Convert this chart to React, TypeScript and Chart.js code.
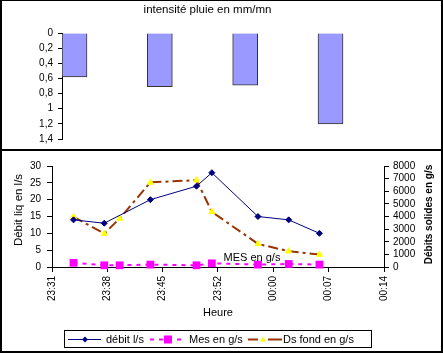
import React, { useEffect, useRef } from 'react';
import { Chart, registerables } from 'chart.js';

Chart.register(...registerables);

// ---------- data ----------
const rainTitle = 'intensité pluie en mm/mn';
const rainSlots = [1, 2, 3, 4];
const rainIntensity = [0.58, 0.71, 0.69, 1.2];

const flowLabel = 'débit l/s';
const flowTimes = ['23:34', '23:38', '23:44', '23:50', '23:52', '23:58', '00:02', '00:06'];
const flowValues = [14, 13, 20, 24, 28, 15, 14, 10];

const mesLabel = 'Mes en g/s';
const bedLabel = 'Ds fond en g/s';
const solidTimes = ['23:34', '23:38', '23:40', '23:44', '23:50', '23:52', '23:58', '00:02', '00:06'];
const mesValues = [330, 135, 135, 190, 135, 290, 190, 240, 190];
const bedloadValues = [3970, 2650, 3840, 6700, 6880, 4370, 1830, 1250, 985];

const xTickTimes = ['23:31:12', '23:38:24', '23:45:36', '23:52:48', '00:00:00', '00:07:12', '00:14:24'];
const leftAxisTitle = 'Débit liq en l/s';
const rightAxisTitle = 'Débits solides en g/s';
const xAxisTitle = 'Heure';
const mesNote = 'MES en g/s';

const FONT = '"Liberation Sans", Arial, sans-serif';

function toMin(s: string): number {
  const p = s.split(':').map(Number);
  let v = p[0] * 60 + p[1] + (p[2] || 0) / 60;
  if (p[0] < 12) v += 1440;
  return v;
}

const axisGrid = { drawOnChartArea: false, drawTicks: true, color: '#000' };

export default function App() {
  const topRef = useRef<HTMLCanvasElement>(null);
  const botRef = useRef<HTMLCanvasElement>(null);

  useEffect(() => {
    document.body.style.margin = '0';
    Chart.defaults.font.family = FONT;
    Chart.defaults.font.size = 10;
    Chart.defaults.color = '#000';

    const titlePlugin = {
      id: 'rainTitle',
      afterDraw(chart: any) {
        const ctx = chart.ctx;
        ctx.save();
        ctx.fillStyle = '#000';
        ctx.font = `11.5px ${FONT}`;
        ctx.textAlign = 'center';
        ctx.textBaseline = 'middle';
        ctx.fillText(rainTitle, 207.5, 10);
        ctx.restore();
      },
    };

    const top = new Chart(topRef.current!, {
      type: 'bar',
      data: {
        datasets: [
          {
            data: rainSlots.map((x, i) => ({ x, y: rainIntensity[i] })),
            backgroundColor: '#9999ff',
            borderColor: '#333333',
            borderWidth: 1,
            barThickness: 25,
          } as any,
        ],
      },
      options: {
        animation: false,
        responsive: false,
        events: [],
        layout: { padding: { top: 33, bottom: 9, left: 0, right: 23 } },
        plugins: { legend: { display: false }, tooltip: { enabled: false } },
        scales: {
          x: { type: 'linear', display: false, min: 0.8535, max: 5.0485, offset: false },
          y: {
            min: 0,
            max: 1.4,
            reverse: true,
            ticks: {
              stepSize: 0.2,
              padding: 5,
              autoSkip: false,
              color: '#000',
              callback: (v: any) => String(Math.round(v * 10) / 10).replace('.', ','),
            },
            grid: { ...axisGrid, tickLength: 4 },
            border: { color: '#000' },
            afterFit: (s: any) => {
              s.width = 62;
            },
          },
        },
      } as any,
      plugins: [titlePlugin],
    });

    const decoPlugin = {
      id: 'deco',
      afterDraw(chart: any) {
        const ctx = chart.ctx;
        ctx.save();
        ctx.fillStyle = '#000';
        ctx.textBaseline = 'middle';
        // left title
        ctx.save();
        ctx.translate(18.5, 60);
        ctx.rotate(-Math.PI / 2);
        ctx.textAlign = 'center';
        ctx.font = `11.5px ${FONT}`;
        ctx.fillText(leftAxisTitle, 0, 0);
        ctx.restore();
        // right title
        ctx.save();
        ctx.translate(429.5, 64.5);
        ctx.rotate(-Math.PI / 2);
        ctx.textAlign = 'center';
        ctx.font = `bold 10px ${FONT}`;
        ctx.fillText(rightAxisTitle, 0, 0);
        ctx.restore();
        // x title
        ctx.textAlign = 'center';
        ctx.font = `11px ${FONT}`;
        const ca = chart.chartArea;
        ctx.fillText(xAxisTitle, (ca.left + ca.right) / 2, 162.5);
        // note
        ctx.fillText(mesNote, 252, 107.5);

        // legend
        const ds = chart.data.datasets;
        ctx.strokeStyle = '#000';
        ctx.lineWidth = 1;
        ctx.strokeRect(64.5, 180.5, 307, 17);
        const cy = 189.5;
        ctx.textAlign = 'left';
        ctx.font = `11px ${FONT}`;
        // debit
        ctx.strokeStyle = '#000080';
        ctx.lineWidth = 1;
        ctx.beginPath();
        ctx.moveTo(68, cy);
        ctx.lineTo(101, cy);
        ctx.stroke();
        ctx.fillStyle = '#000080';
        ctx.beginPath();
        ctx.moveTo(85, cy - 3);
        ctx.lineTo(88, cy);
        ctx.lineTo(85, cy + 3);
        ctx.lineTo(82, cy);
        ctx.closePath();
        ctx.fill();
        ctx.fillStyle = '#000';
        ctx.fillText(ds[0].label, 106, cy + 0.5);
        // mes
        ctx.strokeStyle = '#ff00ff';
        ctx.lineWidth = 2;
        ctx.setLineDash([4, 5]);
        ctx.beginPath();
        ctx.moveTo(150, cy);
        ctx.lineTo(184, cy);
        ctx.stroke();
        ctx.setLineDash([]);
        ctx.fillStyle = '#ff00ff';
        ctx.fillRect(164, cy - 4, 8, 8);
        ctx.fillStyle = '#000';
        ctx.fillText(ds[1].label, 189, cy + 0.5);
        // bed load
        ctx.strokeStyle = '#993300';
        ctx.lineWidth = 2;
        ctx.beginPath();
        ctx.moveTo(248, cy);
        ctx.lineTo(258, cy);
        ctx.moveTo(268, cy);
        ctx.lineTo(282, cy);
        ctx.stroke();
        ctx.fillStyle = '#ffff00';
        ctx.beginPath();
        ctx.moveTo(263, cy - 3);
        ctx.lineTo(266, cy + 2);
        ctx.lineTo(260, cy + 2);
        ctx.closePath();
        ctx.fill();
        ctx.fillStyle = '#000';
        ctx.fillText(ds[2].label, 283, cy + 0.5);
        ctx.restore();
      },
    };

    const bot = new Chart(botRef.current!, {
      type: 'line',
      data: {
        datasets: [
          {
            label: flowLabel,
            data: flowTimes.map((t, i) => ({ x: toMin(t), y: flowValues[i] })),
            yAxisID: 'y',
            borderColor: '#000080',
            backgroundColor: '#000080',
            borderWidth: 1,
            pointStyle: 'rectRot',
            pointRadius: 3,
            pointBorderWidth: 1,
            clip: false,
          },
          {
            label: mesLabel,
            data: solidTimes.map((t, i) => ({ x: toMin(t), y: mesValues[i] })),
            yAxisID: 'y1',
            borderColor: '#ff00ff',
            backgroundColor: '#ff00ff',
            borderWidth: 2,
            borderDash: [4, 5],
            pointStyle: 'rect',
            pointRadius: 5.5,
            pointBorderWidth: 0,
            clip: false,
          },
          {
            label: bedLabel,
            data: solidTimes.map((t, i) => ({ x: toMin(t), y: bedloadValues[i] })),
            yAxisID: 'y1',
            borderColor: '#993300',
            backgroundColor: '#ffff00',
            borderWidth: 2,
            borderDash: [10, 4, 3, 4],
            pointStyle: 'triangle',
            pointRadius: 3.5,
            pointBorderColor: '#ffff00',
            pointBackgroundColor: '#ffff00',
            pointBorderWidth: 1,
            clip: false,
          },
        ],
      },
      options: {
        animation: false,
        responsive: false,
        events: [],
        layout: { padding: { top: 16, bottom: 0, left: 0, right: 0 } },
        plugins: { legend: { display: false }, tooltip: { enabled: false } },
        scales: {
          x: {
            type: 'linear',
            min: toMin(xTickTimes[0]),
            max: toMin(xTickTimes[xTickTimes.length - 1]),
            afterBuildTicks: (s: any) => {
              s.ticks = xTickTimes.map((t) => ({ value: toMin(t) }));
            },
            ticks: {
              autoSkip: false,
              maxRotation: 90,
              minRotation: 90,
              padding: 4,
              color: '#000',
              callback: (_v: any, i: number) => xTickTimes[i].slice(0, 5),
            },
            grid: { ...axisGrid, tickLength: 5 },
            border: { color: '#000' },
            afterFit: (s: any) => {
              s.height = 86;
            },
          },
          y: {
            position: 'left',
            min: 0,
            max: 30,
            ticks: { stepSize: 5, padding: 6, autoSkip: false, color: '#000' },
            grid: { ...axisGrid, tickLength: 5 },
            border: { color: '#000' },
            afterFit: (s: any) => {
              s.width = 52;
            },
          },
          y1: {
            position: 'right',
            min: 0,
            max: 8000,
            ticks: {
              stepSize: 1000,
              padding: 4,
              autoSkip: false,
              color: '#000',
              callback: (v: any) => String(Math.round(v)),
            },
            grid: { ...axisGrid, tickLength: 5 },
            border: { color: '#000' },
            afterFit: (s: any) => {
              s.width = 59;
            },
          },
        },
      } as any,
      plugins: [decoPlugin],
    });

    return () => {
      top.destroy();
      bot.destroy();
    };
  }, []);

  const line = (st: React.CSSProperties) => (
    <div style={{ position: 'absolute', background: '#000', pointerEvents: 'none', ...st }} />
  );

  return (
    <div style={{ position: 'relative', width: 443, height: 353, background: '#fff', overflow: 'hidden' }}>
      <canvas ref={topRef} width={443} height={150} style={{ position: 'absolute', left: 0, top: 0, width: 443, height: 150 }} />
      <canvas ref={botRef} width={443} height={203} style={{ position: 'absolute', left: 0, top: 150, width: 443, height: 203 }} />
      {line({ left: 0, top: 0, width: 443, height: 1 })}
      {line({ left: 0, top: 0, width: 2, height: 353 })}
      {line({ left: 441, top: 0, width: 2, height: 353 })}
      {line({ left: 0, top: 351, width: 443, height: 2 })}
      {line({ left: 0, top: 149, width: 443, height: 2 })}
    </div>
  );
}
